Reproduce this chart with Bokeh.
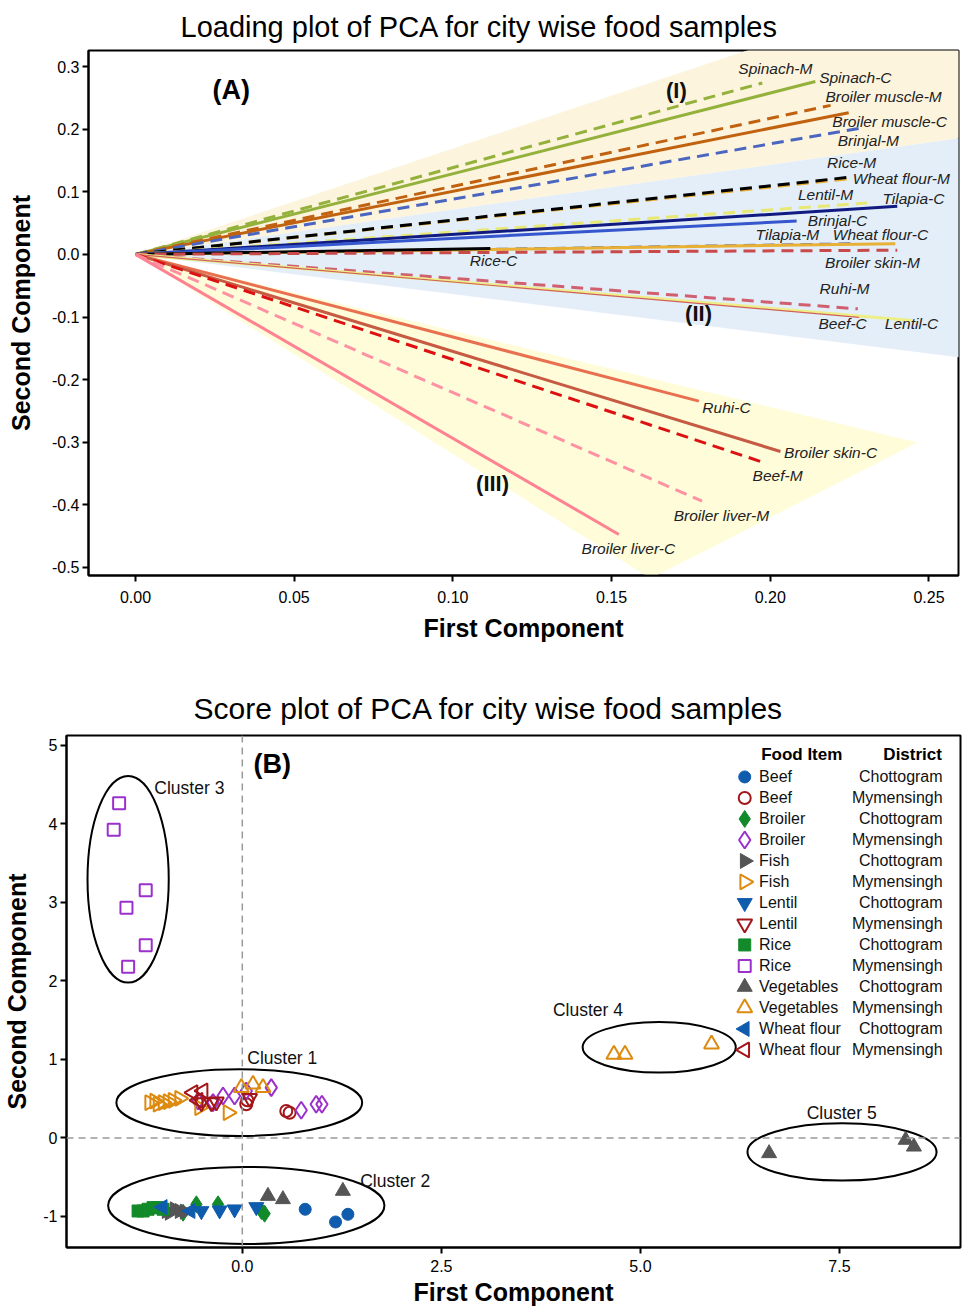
import math
from bokeh.plotting import figure
from bokeh.models import FixedTicker, PrintfTickFormatter, Span
from bokeh.core.properties import value
from bokeh.embed import file_html
from bokeh.resources import INLINE

FONT = "Liberation Sans"

# ---------------- Panel A data: loadings ----------------
load_names = ["Spinach-M", "Spinach-C", "Broiler muscle-M", "Broiler muscle-C", "Brinjal-M",
              "Wheat flour-M", "Rice-M", "Lentil-M", "Tilapia-C", "Brinjal-C", "Tilapia-M",
              "Wheat flour-C", "Rice-C", "Broiler skin-M", "Ruhi-M", "Lentil-C", "Beef-C",
              "Ruhi-C", "Broiler skin-C", "Beef-M", "Broiler liver-M", "Broiler liver-C"]
load_pc1 = [0.1975, 0.2142, 0.2190, 0.2247, 0.2287,
            0.2250, 0.2255, 0.2305, 0.2400, 0.2083, 0.2253,
            0.2394, 0.1118, 0.2400, 0.2276, 0.2446, 0.2280,
            0.1775, 0.2032, 0.1985, 0.1785, 0.1523]
load_pc2 = [0.2737, 0.2760, 0.2380, 0.2263, 0.2018,
            0.1210, 0.1235, 0.0820, 0.0767, 0.0533, 0.0176,
            0.0170, 0.0096, 0.0067, -0.0870, -0.1054, -0.1006,
            -0.2343, -0.3147, -0.3333, -0.3940, -0.4473]

# label anchor positions (data units)
lab_x = [0.2016, 0.2268, 0.2357, 0.2376, 0.2309,
         0.2413, 0.2256, 0.2174, 0.2451, 0.2212, 0.2054,
         0.2347, 0.1128, 0.2322, 0.2234, 0.2445, 0.2228,
         0.1862, 0.2190, 0.2023, 0.1846, 0.1553]
lab_y = [0.2971, 0.2827, 0.2524, 0.2125, 0.1821,
         0.1214, 0.1470, 0.0958, 0.0895, 0.0543, 0.0319,
         0.0319, -0.0096, -0.0128, -0.0543, -0.1102, -0.1102,
         -0.2444, -0.3163, -0.3530, -0.4169, -0.4696]

# shaded groups (I), (II), (III)
reg1_x = [0.0, 0.30, 0.30]
reg1_y = [0.0, 0.507, 0.2145]
reg2_x = [0.0, 0.30, 0.30]
reg2_y = [0.0, 0.2145, -0.190]
reg3_x = [0.0, 0.2464, 0.1623]
reg3_y = [0.0, -0.3003, -0.5176]

styles = {
    "Spinach-M": ("#93b13b", "dashed", 3), "Spinach-C": ("#93b13b", "solid", 3),
    "Broiler muscle-M": ("#c0620f", "dashed", 3), "Broiler muscle-C": ("#c0620f", "solid", 3),
    "Brinjal-M": ("#4a66c0", "dashed", 3), "Brinjal-C": ("#3556cc", "solid", 3),
    "Rice-M": ("#000000", "dashed", 3), "Rice-C": ("#000000", "solid", 3),
    "Wheat flour-M": ("#e8b035", "dashed", 3), "Wheat flour-C": ("#e8b035", "solid", 3),
    "Lentil-M": ("#e8e874", "dashed", 3), "Lentil-C": ("#eeee86", "solid", 3),
    "Tilapia-C": ("#101a80", "solid", 3), "Tilapia-M": ("#5566aa", "dashed", 2),
    "Broiler skin-M": ("#c84a4a", "dashed", 3), "Broiler skin-C": ("#c65a42", "solid", 3),
    "Ruhi-M": ("#d06070", "dashed", 3), "Ruhi-C": ("#e87050", "solid", 3),
    "Beef-C": ("#d06060", "solid", 1.2), "Beef-M": ("#dd1111", "dashed", 3),
    "Broiler liver-M": ("#ff92a2", "dashed", 3), "Broiler liver-C": ("#ff8292", "solid", 3),
}


def style_axes(p, xlab_standoff, ylab_standoff, xtick_standoff, ytick_standoff, title_size):
    for ax in p.axis:
        ax.axis_line_width = 2
        ax.axis_line_color = "black"
        ax.major_tick_line_width = 2
        ax.major_tick_out = 6
        ax.major_tick_in = 0
        ax.minor_tick_out = 0
        ax.minor_tick_in = 0
        ax.major_label_text_font = FONT
        ax.major_label_text_font_size = "16px"
        ax.major_label_text_color = "black"
        ax.axis_label_text_font = FONT
        ax.axis_label_text_font_style = "bold"
        ax.axis_label_text_color = "black"
        ax.axis_label_text_font_size = "25px"
    p.xaxis.major_label_standoff = xtick_standoff
    p.yaxis.major_label_standoff = ytick_standoff
    p.xaxis.axis_label_standoff = xlab_standoff
    p.yaxis.axis_label_standoff = ylab_standoff
    p.xgrid.visible = False
    p.ygrid.visible = False
    p.outline_line_color = "black"
    p.outline_line_width = 2
    p.title.text_font = FONT
    p.title.text_font_size = title_size
    p.title.text_font_style = "normal"
    p.title.align = "left"
    p.title.text_color = "black"


p1 = figure(width=960, height=655, x_range=(-0.0148, 0.2593), y_range=(-0.5128, 0.3256),
            output_backend="svg", toolbar_location=None,
            min_border_left=88, min_border_right=2, min_border_top=50, min_border_bottom=80,
            title="Loading plot of PCA for city wise food samples",
            x_axis_label="First Component", y_axis_label="Second Component")
style_axes(p1, 8, 14, 9, 3, "29px")
p1.title.standoff = 15
p1.title.offset = 92
p1.xaxis.ticker = FixedTicker(ticks=[0.0, 0.05, 0.10, 0.15, 0.20, 0.25])
p1.xaxis.formatter = PrintfTickFormatter(format="%.2f")
p1.yaxis.ticker = FixedTicker(ticks=[0.3, 0.2, 0.1, 0.0, -0.1, -0.2, -0.3, -0.4, -0.5])
p1.yaxis.formatter = PrintfTickFormatter(format="%.1f")

p1.patch(reg1_x, reg1_y, fill_color="#fdf4de", line_color=None)
p1.patch(reg2_x, reg2_y, fill_color="#e3eef8", line_color=None)
p1.patch(reg3_x, reg3_y, fill_color="#fffcda", line_color=None)

for nm, xe, ye in zip(load_names, load_pc1, load_pc2):
    col, dash, lw = styles[nm]
    p1.segment(x0=[0], y0=[0], x1=[xe], y1=[ye], line_color=col, line_width=lw,
               line_dash=("12 7" if dash == "dashed" else "solid"), line_cap="butt")

p1.text(x=lab_x, y=lab_y, text=load_names, text_font=value(FONT), text_font_style="italic",
        text_font_size="15.5px", text_align="center", text_baseline="middle", text_color="#222222")

p1.text(x=[0.1704, 0.1774, 0.1125], y=[0.262, -0.0942, -0.3658], text=["(I)", "(II)", "(III)"],
        text_font=value(FONT), text_font_style="bold", text_font_size="22px", text_align="center",
        text_baseline="middle", text_color="#111111")
p1.text(x=[0.0302], y=[0.262], text=["(A)"], text_font=value(FONT), text_font_style="bold",
        text_font_size="27px", text_align="center", text_baseline="middle", text_color="black")

# ---------------- Panel B data: scores ----------------
beef_c_x = [0.79, 1.171, 1.326]
beef_c_y = [-0.908, -1.07, -0.972]
beef_m_x = [0.05, 0.063, 0.552, 0.594]
beef_m_y = [0.43, 0.48, 0.344, 0.322]
broiler_c_x = [-0.744, -0.577, -0.305, 0.24, 0.28]
broiler_c_y = [-0.952, -0.845, -0.845, -0.93, -0.964]
broiler_m_x = [-0.556, -0.368, -0.242, -0.097, 0.05, 0.364, 0.74, 0.928, 1.0]
broiler_m_y = [0.471, 0.45, 0.535, 0.535, 0.599, 0.641, 0.353, 0.429, 0.429]
fish_c_x = [-0.95, -0.912, -0.849, -0.787, -0.724]
fish_c_y = [-0.93, -0.952, -0.908, -0.93, -0.938]
fish_m_x = [-1.163, -1.1, -1.058, -0.995, -0.932, -0.87, -0.787, -0.536, -0.179]
fish_m_y = [0.45, 0.471, 0.43, 0.45, 0.462, 0.48, 0.506, 0.386, 0.322]
lentil_c_x = [-0.514, -0.285, -0.097, 0.176]
lentil_c_y = [-0.93, -0.921, -0.908, -0.879]
lentil_m_x = [-0.514, -0.389, -0.326, 0.092]
lentil_m_y = [0.45, 0.45, 0.462, 0.506]
rice_c_x = [-1.309, -1.246, -1.184, -1.121, -1.058, -0.995]
rice_c_y = [-0.93, -0.93, -0.908, -0.887, -0.887, -0.908]
rice_m_x = [-1.547, -1.615, -1.213, -1.455, -1.213, -1.434]
rice_m_y = [4.264, 3.927, 3.155, 2.934, 2.455, 2.182]
veg_c_x = [0.322, 0.51, 1.263, 6.616, 8.331, 8.435]
veg_c_y = [-0.739, -0.781, -0.675, -0.195, -0.025, -0.111]
veg_m_x = [-0.013, 0.134, 0.26, 4.667, 4.806, 5.893]
veg_m_y = [0.641, 0.684, 0.641, 1.066, 1.066, 1.194]
wheat_c_x = [-1.0, -0.65]
wheat_c_y = [-0.88, -0.93]
wheat_m_x = [-0.619, -0.493, -0.556]
wheat_m_y = [0.577, 0.599, 0.48]

food_items = ["Beef", "Beef", "Broiler", "Broiler", "Fish", "Fish", "Lentil", "Lentil",
              "Rice", "Rice", "Vegetables", "Vegetables", "Wheat flour", "Wheat flour"]
districts = ["Chottogram", "Mymensingh"] * 7

# clusters
clu_names = ["Cluster 1", "Cluster 2", "Cluster 3", "Cluster 4", "Cluster 5"]
clu_cx = [-0.038, 0.05, -1.434, 5.236, 7.532]
clu_cy = [0.45, -0.86, 3.296, 1.155, -0.178]
clu_w = [3.087, 3.47, 1.02, 1.923, 2.375]
clu_h = [0.85, 0.98, 2.633, 0.645, 0.73]
clu_lab_x = [0.502, 1.92, -0.665, 4.341, 7.528]
clu_lab_y = [1.019, -0.548, 4.459, 1.631, 0.318]

BLUE = "#0f5cae"
DRED = "#a3161a"
GREEN = "#128a2a"
PURP = "#9b30cc"
GRAY = "#555555"
ORNG = "#dd8a10"

series = [
    (beef_c_x, beef_c_y, "circle", BLUE, True, 0),
    (beef_m_x, beef_m_y, "circle", DRED, False, 0),
    (broiler_c_x, broiler_c_y, "diamond", GREEN, True, 0),
    (broiler_m_x, broiler_m_y, "diamond", PURP, False, 0),
    (fish_c_x, fish_c_y, "triangle", GRAY, True, -math.pi / 2),
    (fish_m_x, fish_m_y, "triangle", ORNG, False, -math.pi / 2),
    (lentil_c_x, lentil_c_y, "inverted_triangle", BLUE, True, 0),
    (lentil_m_x, lentil_m_y, "inverted_triangle", DRED, False, 0),
    (rice_c_x, rice_c_y, "square", GREEN, True, 0),
    (rice_m_x, rice_m_y, "square", PURP, False, 0),
    (veg_c_x, veg_c_y, "triangle", GRAY, True, 0),
    (veg_m_x, veg_m_y, "triangle", ORNG, False, 0),
    (wheat_c_x, wheat_c_y, "triangle", BLUE, True, math.pi / 2),
    (wheat_m_x, wheat_m_y, "triangle", DRED, False, math.pi / 2),
]
msizes = {"circle": 12, "diamond": 17, "triangle": 15, "inverted_triangle": 15, "square": 12}

p2 = figure(width=962, height=657, x_range=(-2.208, 9.02), y_range=(-1.395, 5.127),
            output_backend="svg", toolbar_location=None,
            min_border_left=65, min_border_right=2, min_border_top=80, min_border_bottom=65,
            title="Score plot of PCA for city wise food samples",
            x_axis_label="First Component", y_axis_label="Second Component")
style_axes(p2, 3, 9, 6, 3, "30px")
p2.title.standoff = 21
p2.title.offset = 127
p2.xaxis.ticker = FixedTicker(ticks=[0.0, 2.5, 5.0, 7.5])
p2.xaxis.formatter = PrintfTickFormatter(format="%.1f")
p2.yaxis.ticker = FixedTicker(ticks=[-1, 0, 1, 2, 3, 4, 5])
p2.yaxis.formatter = PrintfTickFormatter(format="%d")

p2.add_layout(Span(location=0, dimension="height", line_color="#999999", line_width=1.5, line_dash="7 5"))
p2.add_layout(Span(location=0, dimension="width", line_color="#999999", line_width=1.5, line_dash="7 5"))

p2.ellipse(x=clu_cx, y=clu_cy, width=clu_w, height=clu_h, fill_color=None,
           line_color="black", line_width=2)
p2.text(x=clu_lab_x, y=clu_lab_y, text=clu_names, text_font=value(FONT), text_font_size="17.5px",
        text_align="center", text_baseline="middle", text_color="#111111")


def draw_marker(p, xs, ys, mk, colr, filled, ang):
    sz = msizes[mk]
    if filled:
        p.scatter(xs, ys, marker=mk, size=sz, angle=ang, fill_color=colr, line_color=colr,
                  line_width=1)
    else:
        p.scatter(xs, ys, marker=mk, size=sz, angle=ang, fill_color=None, line_color=colr,
                  line_width=2)


for xs, ys, mk, colr, filled, ang in series:
    draw_marker(p2, xs, ys, mk, colr, filled, ang)

p2.text(x=[0.376], y=[4.764], text=["(B)"], text_font=value(FONT), text_font_style="bold",
        text_font_size="27px", text_align="center", text_baseline="middle", text_color="black")

# legend (two text columns)
leg_mx, leg_tx, leg_dx = 6.31, 6.49, 8.795
leg_y0, leg_dy = 4.599, 0.2675
p2.text(x=[7.026, 8.419], y=[4.879, 4.879], text=["Food Item", "District"], text_font=value(FONT),
        text_font_style="bold", text_font_size="17px", text_align="center", text_baseline="middle",
        text_color="black")
for i, (xs, ys, mk, colr, filled, ang) in enumerate(series):
    yy = leg_y0 - i * leg_dy
    draw_marker(p2, [leg_mx], [yy], mk, colr, filled, ang)
leg_ys = [leg_y0 - i * leg_dy for i in range(len(series))]
p2.text(x=[leg_tx] * len(series), y=leg_ys, text=food_items, text_font=value(FONT),
        text_font_size="16px", text_align="left", text_baseline="middle", text_color="#111111")
p2.text(x=[leg_dx] * len(series), y=leg_ys, text=districts, text_font=value(FONT),
        text_font_size="16px", text_align="right", text_baseline="middle", text_color="#111111")

open("out.html", "w").write(file_html([p1, p2], INLINE))
